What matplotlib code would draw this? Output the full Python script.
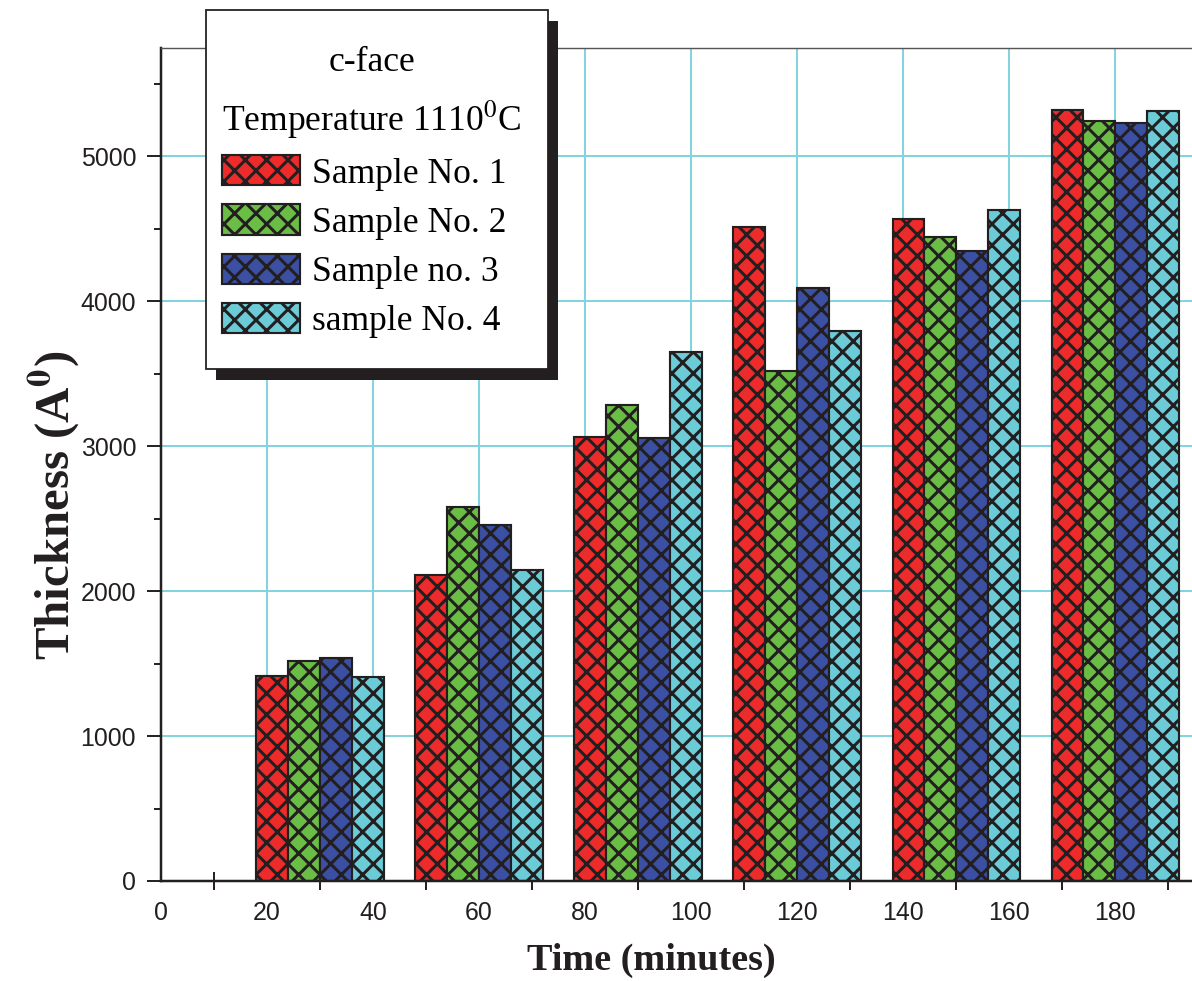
import matplotlib
matplotlib.use('Agg')
import matplotlib.pyplot as plt
from matplotlib.patches import Rectangle
from matplotlib.ticker import MultipleLocator

# データ
time_groups = [30, 60, 90, 120, 150, 180]
sample_labels = ['Sample No. 1', 'Sample No. 2', 'Sample no. 3', 'sample No. 4']
sample1 = [1415, 2110, 3060, 4510, 4565, 5320]
sample2 = [1520, 2580, 3280, 3520, 4440, 5240]
sample3 = [1540, 2455, 3055, 4090, 4345, 5225]
sample4 = [1405, 2145, 3650, 3795, 4625, 5310]
bar_colors = ['#ED2B2B', '#6ABD45', '#3B50A3', '#6BCCD7']

W, H, DPI = 1192, 981, 128
plt.rcParams['font.family'] = ['Liberation Sans', 'DejaVu Sans']
plt.rcParams['mathtext.fontset'] = 'stix'
plt.rcParams['hatch.linewidth'] = 1.7

fig = plt.figure(figsize=(W / DPI, H / DPI), dpi=DPI)
ax = fig.add_axes([161 / W, 1 - 881 / H, 1 - 161 / W, (881 - 48) / H])

bar_w = 6
offsets = [-9, -3, 3, 9]
series = [sample1, sample2, sample3, sample4]
handles = []
for vals, off, col, lab in zip(series, offsets, bar_colors, sample_labels):
    xs = [t + off for t in time_groups]
    h = ax.bar(xs, vals, width=bar_w, color=col, edgecolor='#231F20',
               linewidth=1.2, hatch='xx', label=lab, zorder=2)
    handles.append(h)

ax.set_xlim(0, 194.5)
ax.set_ylim(0, 5745)
ax.xaxis.set_major_locator(MultipleLocator(20))
ax.xaxis.set_minor_locator(MultipleLocator(10))
ax.yaxis.set_major_locator(MultipleLocator(1000))
ax.yaxis.set_minor_locator(MultipleLocator(500))

ax.set_axisbelow(True)
ax.grid(which='major', color='#7FD4E0', linewidth=1.1)

ax.tick_params(axis='x', which='major', length=0, pad=11, labelsize=14,
               labelcolor='#231F20')
ax.tick_params(axis='x', which='minor', direction='inout', length=10,
               width=1.1, color='#231F20')
ax.tick_params(axis='y', which='major', direction='out', length=8,
               width=1.1, pad=6, labelsize=14, color='#231F20',
               labelcolor='#231F20')
ax.tick_params(axis='y', which='minor', direction='out', length=4,
               width=1.1, color='#231F20')

for s in ['left', 'bottom']:
    ax.spines[s].set_linewidth(1.4)
    ax.spines[s].set_color('#231F20')
ax.spines['top'].set_linewidth(0.8)
ax.spines['top'].set_color('#555555')
ax.spines['right'].set_visible(False)

serif = ['Liberation Serif', 'DejaVu Serif']
ax.set_xlabel('Time (minutes)', family=serif, fontweight='bold', fontsize=21.5,
              color='#231F20')
ax.xaxis.set_label_coords(0.476, (881 - 970) / 833)
ax.xaxis.label.set_va('baseline')
ax.set_ylabel(r'Thickness (A$^{\mathbf{0}}$)', family=serif, fontweight='bold',
              fontsize=27.5, color='#231F20')
ax.yaxis.set_label_coords((54 - 161) / 1031, (881 - 505) / 833)
ax.yaxis.label.set_va('center')

# 凡例の枠と影
shadow = Rectangle((216 / W, 1 - 380 / H), 342 / W, 359 / H,
                   transform=fig.transFigure, facecolor='#231F20',
                   edgecolor='none', zorder=3)
frame = Rectangle((206 / W, 1 - 369 / H), 342 / W, 359 / H,
                  transform=fig.transFigure, facecolor='white',
                  edgecolor='#231F20', linewidth=1.0, zorder=4)
fig.add_artist(shadow)
fig.add_artist(frame)

leg = fig.legend(handles=handles, loc='upper left',
                 bbox_to_anchor=(222 / W, 1 - 46 / H),
                 bbox_transform=fig.transFigure, borderaxespad=0,
                 title='c-face\nTemperature 1110$^0$C', alignment='left',
                 prop={'family': serif, 'size': 20},
                 title_fontproperties={'family': serif, 'size': 20},
                 frameon=False, handlelength=2.2, handleheight=0.93,
                 handletextpad=0.34, labelspacing=0.39, borderpad=0)
leg.get_title().set_linespacing(1.62)
leg.get_title().set_multialignment('center')
leg.set_zorder(5)

fig.savefig('out.png', dpi=DPI)
